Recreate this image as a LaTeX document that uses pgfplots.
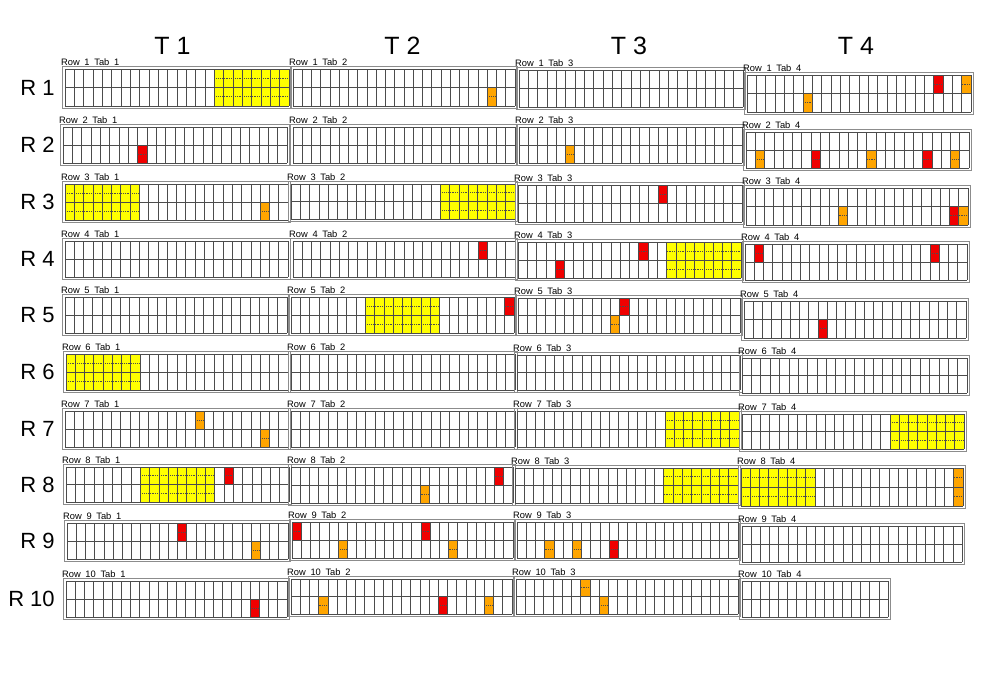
\documentclass[border=0pt]{standalone}
\usepackage{fontspec}
\setmainfont{Liberation Sans}
\usepackage{pgfplots}
\pgfplotsset{compat=1.18}
\definecolor{cred}{RGB}{240,0,0}
\definecolor{corg}{RGB}{255,165,0}
\definecolor{cyel}{RGB}{255,255,0}
\newcommand\ttl[2]{Row\hspace{0.5em}#1\hspace{0.5em}Tab\hspace{0.5em}#2}
\pgfplotsset{
  every axis title/.style={at={(0,1)}, anchor=south west, inner sep=0pt,
      xshift=-1.2pt, yshift=0.6pt, font=\fontsize{7pt}{8pt}\selectfont},
  tabax/.style={scale only axis, anchor=south west,
    xtick=\empty, ytick=\empty,
    axis line style={black!45, line width=0.5pt}},
  gridln/.style={black!70, line width=0.45pt, unbounded coords=jump, forget plot},
  midln/.style={black!70, densely dotted, line width=0.4pt, forget plot}
}
% colored cell: colour, first column, row (0 = bottom, 1 = top), columns wide, rows tall
\newcommand\cell[5]{%
  \pgfmathsetmacro\cxa{#2}\pgfmathsetmacro\cxb{#2+#4}%
  \pgfmathsetmacro\cya{#3}\pgfmathsetmacro\cyb{#3+#5}%
  \pgfmathsetmacro\cma{#3+0.5}%
  \edef\celltmp{\noexpand\addplot[fill=#1,draw=none,forget plot] coordinates {(\cxa,\cya) (\cxb,\cya) (\cxb,\cyb) (\cxa,\cyb)};%
    \noexpand\addplot[midln] coordinates {(\cxa,\cma) (\cxb,\cma)};}\celltmp
  \ifnum#5>1 \pgfmathsetmacro\cmb{#3+1.5}%
    \edef\celltmp{\noexpand\addplot[midln] coordinates {(\cxa,\cmb) (\cxb,\cmb)};}\celltmp\fi}
% tab: left, top, right, bottom (pixels of the grid), columns, title, cells
\newcommand\tab[7]{%
  \pgfmathsetmacro\tabmx{2.5*#5/(#3-#1)}%
  \pgfmathsetmacro\tabmy{5/(#4-#2)}%
  \pgfmathsetmacro\tabxmax{#5+\tabmx}%
  \pgfmathsetmacro\tabymax{2+\tabmy}%
  \pgfmathsetlengthmacro\tabw{(#3-#1+5)*0.75pt}%
  \pgfmathsetlengthmacro\tabh{(#4-#2+5)*0.75pt}%
  \gdef\tabvl{}%
  \foreach \i in {0,...,#5}{\xdef\tabvl{\tabvl (\i,0) (\i,2) (\i,nan)}}%
  \begin{axis}[tabax, at={({(#1-2.5)*0.75pt},{(669.5-#4)*0.75pt})},
    width=\tabw, height=\tabh, xmin=-\tabmx, xmax=\tabxmax, ymin=-\tabmy, ymax=\tabymax,
    title={#6}]
  #7
  \edef\celltmp{\noexpand\addplot[gridln] coordinates {\tabvl (0,0) (#5,0) (0,nan) (0,1) (#5,1) (0,nan) (0,2) (#5,2)};}\celltmp
  \end{axis}}
\newcommand\rlab[2]{\node[anchor=east, inner sep=0pt, font=\fontsize{16.5pt}{18pt}\selectfont] at ({55*0.75pt},{(672-#1)*0.75pt}) {#2};}
\newcommand\tlab[2]{\node[inner sep=0pt, font=\fontsize{18.75pt}{20pt}\selectfont] at ({#1*0.75pt},{(672-46)*0.75pt}) {#2};}
\begin{document}
\begin{tikzpicture}
\useasboundingbox (0,0) rectangle (747.75pt,504pt);
\tlab{172.5}{T 1}\tlab{402.5}{T 2}\tlab{629}{T 3}\tlab{856}{T 4}
\rlab{87.5}{R 1}\rlab{145}{R 2}\rlab{202}{R 3}\rlab{259}{R 4}\rlab{315}{R 5}
\rlab{372}{R 6}\rlab{429}{R 7}\rlab{485}{R 8}\rlab{541}{R 9}\rlab{599}{R 10}
% Row 1
\tab{65}{69}{289}{106}{24}{\ttl11}{\cell{cyel}{16}{0}{8}{2}}
\tab{293}{69}{515}{106}{24}{\ttl12}{\cell{corg}{21}{0}{1}{1}}
\tab{519}{70}{743}{107}{24}{\ttl13}{}
\tab{747}{75}{971}{112}{24}{\ttl14}{\cell{cred}{20}{1}{1}{1}\cell{corg}{23}{1}{1}{1}\cell{corg}{6}{0}{1}{1}}
% Row 2
\tab{63}{127}{287}{163}{24}{\ttl21}{\cell{cred}{8}{0}{1}{1}}
\tab{293}{127}{515}{163}{24}{\ttl22}{}
\tab{519}{127}{742}{163}{24}{\ttl23}{\cell{corg}{5}{0}{1}{1}}
\tab{746}{132}{969}{168}{24}{\ttl24}{\cell{corg}{1}{0}{1}{1}\cell{cred}{7}{0}{1}{1}\cell{corg}{13}{0}{1}{1}\cell{cred}{19}{0}{1}{1}\cell{corg}{22}{0}{1}{1}}
% Row 3
\tab{65}{184}{288}{220}{24}{\ttl31}{\cell{cyel}{0}{0}{8}{2}\cell{corg}{21}{0}{1}{1}}
\tab{291}{184}{515}{219}{24}{\ttl32}{\cell{cyel}{16}{0}{8}{2}}
\tab{518}{185}{742}{222}{24}{\ttl33}{\cell{cred}{15}{1}{1}{1}}
\tab{746}{188}{968}{225}{24}{\ttl34}{\cell{corg}{10}{0}{1}{1}\cell{cred}{22}{0}{1}{1}\cell{corg}{23}{0}{1}{1}}
% Row 4
\tab{65}{241}{288}{277}{24}{\ttl41}{}
\tab{293}{241}{515}{277}{24}{\ttl42}{\cell{cred}{20}{1}{1}{1}}
\tab{518}{242}{741}{278}{24}{\ttl43}{\cell{cred}{13}{1}{1}{1}\cell{cred}{4}{0}{1}{1}\cell{cyel}{16}{0}{8}{2}}
\tab{745}{244}{967}{280}{24}{\ttl44}{\cell{cred}{1}{1}{1}{1}\cell{cred}{20}{1}{1}{1}}
% Row 5
\tab{65}{297}{287}{333}{24}{\ttl51}{}
\tab{291}{297}{514}{333}{24}{\ttl52}{\cell{cyel}{8}{0}{8}{2}\cell{cred}{23}{1}{1}{1}}
\tab{518}{298}{740}{333}{24}{\ttl53}{\cell{cred}{11}{1}{1}{1}\cell{corg}{10}{0}{1}{1}}
\tab{744}{301}{966}{338}{24}{\ttl54}{\cell{cred}{8}{0}{1}{1}}
% Row 6
\tab{66}{354}{288}{390}{24}{\ttl61}{\cell{cyel}{0}{0}{8}{2}}
\tab{291}{354}{515}{390}{24}{\ttl62}{}
\tab{517}{355}{740}{390}{24}{\ttl63}{}
\tab{742}{358}{967}{393}{24}{\ttl64}{}
% Row 7
\tab{65}{411}{288}{447}{24}{\ttl71}{\cell{corg}{14}{1}{1}{1}\cell{corg}{21}{0}{1}{1}}
\tab{291}{411}{515}{447}{24}{\ttl72}{}
\tab{517}{411}{739}{447}{24}{\ttl73}{\cell{cyel}{16}{0}{8}{2}}
\tab{742}{414}{964}{449}{24}{\ttl74}{\cell{cyel}{16}{0}{8}{2}}
% Row 8
\tab{66}{467}{289}{502}{24}{\ttl81}{\cell{cyel}{8}{0}{8}{2}\cell{cred}{17}{1}{1}{1}}
\tab{291}{467}{513}{503}{24}{\ttl82}{\cell{corg}{14}{0}{1}{1}\cell{cred}{22}{1}{1}{1}}
\tab{515}{468}{738}{503}{24}{\ttl83}{\cell{cyel}{16}{0}{8}{2}}
\tab{741}{468}{963}{506}{24}{\ttl84}{\cell{cyel}{0}{0}{8}{2}\cell{corg}{23}{0}{1}{1}\cell{corg}{23}{1}{1}{1}}
% Row 9
\tab{67}{523}{288}{559}{24}{\ttl91}{\cell{cred}{12}{1}{1}{1}\cell{corg}{20}{0}{1}{1}}
\tab{292}{522}{513}{558}{24}{\ttl92}{\cell{cred}{0}{1}{1}{1}\cell{corg}{5}{0}{1}{1}\cell{cred}{14}{1}{1}{1}\cell{corg}{17}{0}{1}{1}}
\tab{517}{522}{738}{558}{24}{\ttl93}{\cell{corg}{3}{0}{1}{1}\cell{corg}{6}{0}{1}{1}\cell{cred}{10}{0}{1}{1}}
\tab{742}{526}{962}{562}{24}{\ttl94}{}
% Row 10
\tab{66}{581}{287}{617}{24}{\ttl{10}1}{\cell{cred}{20}{0}{1}{1}}
\tab{291}{579}{512}{614}{24}{\ttl{10}2}{\cell{corg}{3}{0}{1}{1}\cell{cred}{16}{0}{1}{1}\cell{corg}{21}{0}{1}{1}}
\tab{516}{579}{738}{614}{24}{\ttl{10}3}{\cell{corg}{7}{1}{1}{1}\cell{corg}{9}{0}{1}{1}}
\tab{742}{581}{888}{617}{16}{\ttl{10}4}{}
\end{tikzpicture}
\end{document}
